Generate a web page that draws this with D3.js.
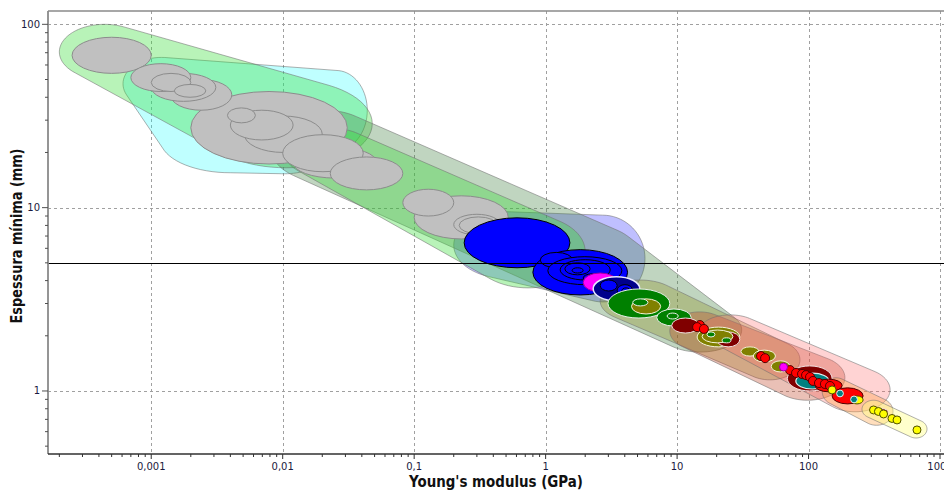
<!DOCTYPE html>
<html>
<head>
<meta charset="utf-8">
<script src="https://cdn.jsdelivr.net/npm/d3@7"></script>
<style>
  body { margin: 0; background: #fff; }
  svg { display: block; }
</style>
</head>
<body>
<svg id="chart" width="944" height="491"></svg>
<script>
// ---- Axis ticks -------------------------------------------------------
const xTickValues = [0.001, 0.01, 0.1, 1, 10, 100, 1000];
const xTickLabels = ["0,001", "0,01", "0,1", "1", "10", "100", "1000"];
const yTickValues = [1, 10, 100];
const yTickLabels = ["1", "10", "100"];
const thresholdThickness = 5; // mm

// ---- Family envelopes: each is the hull of ranges [Emin, Emax, tmin, tmax]
const envCyan = [[6.1e-4, 2.35e-3, 34, 66], [1.17e-3, 0.0136, 15.5, 36], [5.6e-3, 0.019, 15.3, 22], [0.0148, 0.044, 20.6, 56]];
const envLightGreen = [[2.0e-4, 9.8e-4, 50, 100], [2.35e-3, 0.048, 16.5, 50]];
const envGreen = [[0.0104, 0.050, 14.5, 27.2], [0.27, 2.0, 3.65, 9.1]];
const envLavender = [[0.20, 1.29, 4.1, 9.5], [1.29, 5.7, 3.06, 9.1]];
const envSage = [[8.0e-3, 0.055, 13.8, 34], [0.91, 5.2, 3.56, 8.05], [7.2, 31, 1.63, 2.84]];
const envKhaki = [[2.6, 10.5, 2.38, 4.03], [30, 86, 1.15, 1.9]];
const envTerracotta = [[8.8, 25, 1.67, 2.7], [51, 189, 0.89, 1.57]];
const envPink = [[15, 43, 1.78, 2.6], [122, 417, 0.77, 1.34]];
const envOrange = [[127, 207, 0.84, 1.18], [246, 439, 0.65, 0.92]];
const envYellow = [[255, 382, 0.71, 0.89], [542, 796, 0.554, 0.695]];

// ---- Material bubbles: [family, Emin, Emax, tmin, tmax] (GPa, mm)
const foamBubbles = [
  ["gray", 2.0e-3, 0.031, 17.3, 43],
  ["gray", 2.5e-4, 1.0e-3, 54, 85],
  ["gray", 1.4e-3, 4.1e-3, 34, 50],
  ["gray", 1.0e-3, 3.1e-3, 38, 54],
  ["gray", 7.0e-4, 2.0e-3, 43, 61],
  ["gray", 1.0e-3, 2.0e-3, 43, 54],
  ["gray", 1.5e-3, 2.6e-3, 40, 47],
  ["gray", 5.1e-3, 0.020, 20, 31.6],
  ["gray", 4.0e-3, 0.012, 23.4, 34],
  ["gray", 3.8e-3, 6.2e-3, 29, 35],
  ["gray", 0.012, 0.052, 14.5, 21.4],
  ["gray", 0.010, 0.041, 15.7, 25],
  ["gray", 0.023, 0.082, 12.5, 18.9],
  ["gray", 0.10, 0.52, 6.75, 11.6],
  ["gray", 0.082, 0.20, 9.0, 12.6],
  ["gray", 0.20, 0.45, 7.1, 9.2],
  ["gray", 0.22, 0.43, 7.2, 8.9]
];
const polymerBubbles = [
  ["blue", 0.24, 1.53, 4.7, 8.8],
  ["blue", 0.80, 4.2, 3.34, 5.9],
  ["blue", 0.91, 1.6, 4.7, 5.7],
  ["blue", 1.04, 3.8, 3.8, 5.4],
  ["blue", 1.29, 3.1, 4.03, 5.2],
  ["blue", 1.4, 2.18, 4.3, 5.0],
  ["blue", 1.59, 1.93, 4.4, 4.7],
  ["blue", 1.93, 2.6, 3.93, 4.35],
  ["magenta", 1.93, 3.5, 3.47, 4.4],
  ["navy", 2.3, 5.2, 3.1, 4.2],
  ["blue", 2.6, 3.5, 3.51, 4.03],
  ["blue", 3.5, 4.6, 3.3, 3.8],
  ["blue", 3.8, 4.4, 3.34, 3.65],
  ["blue", 4.24, 4.87, 3.3, 3.6]
];
const compositeBubbles = [
  ["green", 2.98, 8.8, 2.5, 3.6],
  ["olive", 4.5, 7.5, 2.63, 3.18],
  ["green", 4.6, 6.0, 2.91, 3.18],
  ["green", 7.0, 12.8, 2.26, 2.8],
  ["green", 8.4, 10.2, 2.47, 2.66],
  ["darkred", 9.1, 14.7, 2.07, 2.5],
  ["olive", 14.2, 30, 1.74, 2.23],
  ["darkred", 20, 30, 1.74, 2.1],
  ["olive", 15.5, 26.6, 1.83, 2.15],
  ["green", 16.9, 19.4, 1.97, 2.1],
  ["green", 22, 25.7, 1.83, 1.95],
  ["olive", 30.6, 42, 1.55, 1.74],
  ["olive", 38, 56, 1.44, 1.67],
  ["olive", 52, 72, 1.27, 1.46]
];
const metalBubbles = [
  ["darkred", 69, 151, 1.0, 1.37],
  ["teal", 80, 143, 1.025, 1.25],
  ["red", 112, 180, 0.99, 1.16],
  ["red", 151, 260, 0.85, 1.04],
  ["yellow", 210, 260, 0.85, 0.94],
  ["darkred", 326, 402, 0.74, 0.80]
];

// ---- Single-value materials: [E, t]
const redPoints = [[14.9, 2.29], [14.2, 2.23], [16.0, 2.18], [43.5, 1.55], [46.7, 1.51],
  [72.3, 1.30], [80.3, 1.254], [89.2, 1.238], [95.7, 1.22], [102.6, 1.192],
  [108, 1.134], [120, 1.105], [133, 1.092], [145.6, 1.065]];
const magentaPoints = [[64.5, 1.35]];
const tealPoints = [[173.5, 0.969], [221.7, 0.899]];
const yellowPoints = [[151, 1.013], [312, 0.788], [340, 0.773], [372, 0.749], [431, 0.708], [471, 0.695], [668, 0.613]];

// ---- Styles ----------------------------------------------------------
const bubbleStyle = {
  gray:    { fill: "#c0c0c0", stroke: "#8c8c8c", sw: 1 },
  blue:    { fill: "#0000ff", stroke: "#000000", sw: 1 },
  navy:    { fill: "#00008c", stroke: "#e8e8ff", sw: 1.5 },
  magenta: { fill: "#ff00ff", stroke: "#a000a0", sw: 1 },
  green:   { fill: "#008000", stroke: "#e8f0e8", sw: 1 },
  olive:   { fill: "#808000", stroke: "#f4f4d8", sw: 1 },
  darkred: { fill: "#800000", stroke: "#f0e0e0", sw: 1 },
  red:     { fill: "#ff0000", stroke: "#500000", sw: 1 },
  teal:    { fill: "#008080", stroke: "#e0f0f0", sw: 1.2 },
  yellow:  { fill: "#ffff00", stroke: "#505000", sw: 1 }
};
const envelopeLayers = [
  { anchors: envCyan,       fill: "#00ffff", op: 0.25 },
  { anchors: envLightGreen, fill: "#33dd33", op: 0.35 },
  { anchors: envLavender,   fill: "#0000ff", op: 0.25 },
  { anchors: envSage,       fill: "#408040", op: 0.33 },
  { anchors: envGreen,      fill: "#33dd33", op: 0.35 },
  { anchors: envKhaki,      fill: "#808000", op: 0.28 },
  { anchors: envTerracotta, fill: "#c04020", op: 0.33 },
  { anchors: envPink,       fill: "#ff6060", op: 0.28 },
  { anchors: envOrange,     fill: "#ffa040", op: 0.35 },
  { anchors: envYellow,     fill: "#ffff80", op: 0.40 }
];

// ---- Layout ----------------------------------------------------------
const plot = { left: 48, right: 944, top: 11, bottom: 454 };
const x = d3.scaleLog().domain([1.64e-4, 1072]).range([plot.left, plot.right]);
const y = d3.scaleLog().domain([0.4531, 118.2]).range([plot.bottom, plot.top]);

const svg = d3.select("#chart");
const fontTick = "'DejaVu Sans', Verdana, sans-serif";

svg.append("defs").append("clipPath").attr("id", "plotClip")
  .append("rect").attr("x", plot.left).attr("y", plot.top)
  .attr("width", plot.right - plot.left).attr("height", plot.bottom - plot.top);

// grid
const grid = svg.append("g").attr("stroke", "#a0a0a0").attr("stroke-width", 1)
  .attr("stroke-dasharray", "3,3").attr("shape-rendering", "crispEdges");
grid.selectAll("line.gx").data(xTickValues).join("line")
  .attr("x1", d => Math.round(x(d)) + 0.5).attr("x2", d => Math.round(x(d)) + 0.5)
  .attr("y1", plot.top).attr("y2", plot.bottom);
grid.selectAll("line.gy").data(yTickValues).join("line")
  .attr("y1", d => Math.round(y(d)) + 0.5).attr("y2", d => Math.round(y(d)) + 0.5)
  .attr("x1", plot.left).attr("x2", plot.right);

const body = svg.append("g").attr("clip-path", "url(#plotClip)");

// envelopes as convex hulls of sampled range ellipses
function rangeEllipse(r) {
  const x0 = x(r[0]), x1 = x(r[1]), y0 = y(r[3]), y1 = y(r[2]);
  return { cx: (x0 + x1) / 2, cy: (y0 + y1) / 2, rx: (x1 - x0) / 2, ry: (y1 - y0) / 2 };
}
function hullPath(anchors) {
  const pts = [];
  anchors.forEach(a => {
    const e = rangeEllipse(a);
    for (let i = 0; i < 72; i++) {
      const th = i / 72 * 2 * Math.PI;
      pts.push([e.cx + e.rx * Math.cos(th), e.cy + e.ry * Math.sin(th)]);
    }
  });
  const hull = d3.polygonHull(pts);
  return d3.line().curve(d3.curveLinearClosed)(hull);
}
body.append("g").selectAll("path").data(envelopeLayers).join("path")
  .attr("d", d => hullPath(d.anchors))
  .attr("fill", d => d.fill).attr("fill-opacity", d => d.op)
  .attr("stroke", "#707070").attr("stroke-opacity", 0.55).attr("stroke-width", 1)
  .attr("stroke-linejoin", "round");

// bubbles
function drawBubbles(rows) {
  body.append("g").selectAll("ellipse").data(rows).join("ellipse")
    .each(function (d) {
      const e = rangeEllipse(d.slice(1));
      const s = bubbleStyle[d[0]];
      d3.select(this).attr("cx", e.cx).attr("cy", e.cy).attr("rx", e.rx).attr("ry", e.ry)
        .attr("fill", s.fill).attr("stroke", s.stroke).attr("stroke-width", s.sw);
    });
}
drawBubbles(foamBubbles);
drawBubbles(polymerBubbles);
drawBubbles(compositeBubbles);
drawBubbles(metalBubbles);

// point materials
function drawPoints(rows, family, r) {
  const s = bubbleStyle[family];
  body.append("g").selectAll("circle").data(rows).join("circle")
    .attr("cx", d => x(d[0])).attr("cy", d => y(d[1])).attr("r", r)
    .attr("fill", s.fill).attr("stroke", s.stroke).attr("stroke-width", 1);
}
drawPoints(redPoints, "red", 4.5);
drawPoints(magentaPoints, "magenta", 4);
drawPoints(yellowPoints, "yellow", 4);
drawPoints(tealPoints, "teal", 3.4);

// threshold line
body.append("line")
  .attr("x1", plot.left).attr("x2", plot.right)
  .attr("y1", Math.round(y(thresholdThickness)) + 0.5).attr("y2", Math.round(y(thresholdThickness)) + 0.5)
  .attr("stroke", "#000").attr("stroke-width", 1.2);

// frame
svg.append("line").attr("x1", plot.left).attr("x2", plot.right)
  .attr("y1", plot.top).attr("y2", plot.top).attr("stroke", "#8a8a8a").attr("stroke-width", 1.6);
svg.append("line").attr("x1", plot.left).attr("x2", plot.left)
  .attr("y1", plot.top).attr("y2", plot.bottom).attr("stroke", "#8a8a8a").attr("stroke-width", 1.8);
svg.append("line").attr("x1", plot.left).attr("x2", plot.right)
  .attr("y1", plot.bottom).attr("y2", plot.bottom).attr("stroke", "#303030").attr("stroke-width", 1.6);

// x ticks (major + minor)
const xMinor = [];
for (let p = -4; p <= 3; p++) for (let k = 2; k <= 9; k++) {
  const v = k * Math.pow(10, p);
  if (v > x.domain()[0] && v < x.domain()[1]) xMinor.push(v);
}
const tk = svg.append("g").attr("stroke", "#303030").attr("stroke-width", 1);
tk.selectAll("line.xm").data(xMinor).join("line")
  .attr("x1", d => x(d)).attr("x2", d => x(d)).attr("y1", plot.bottom).attr("y2", plot.bottom + 3);
tk.selectAll("line.xM").data(xTickValues).join("line")
  .attr("x1", d => x(d)).attr("x2", d => x(d)).attr("y1", plot.bottom).attr("y2", plot.bottom + 5);

const yMinor = [];
for (let p = -1; p <= 2; p++) for (let k = 2; k <= 9; k++) {
  const v = k * Math.pow(10, p);
  if (v > y.domain()[0] && v < y.domain()[1]) yMinor.push(v);
}
const tky = svg.append("g").attr("stroke", "#505050").attr("stroke-width", 1);
tky.selectAll("line.ym").data(yMinor).join("line")
  .attr("y1", d => y(d)).attr("y2", d => y(d)).attr("x1", plot.left - 3).attr("x2", plot.left);
tky.selectAll("line.yM").data(yTickValues).join("line")
  .attr("y1", d => y(d)).attr("y2", d => y(d)).attr("x1", plot.left - 6).attr("x2", plot.left);

// tick labels
svg.append("g").selectAll("text").data(xTickValues).join("text")
  .attr("x", d => x(d)).attr("y", 470).attr("text-anchor", "middle")
  .attr("font-family", fontTick).attr("font-size", 10).attr("fill", "#1a1a40")
  .text((d, i) => xTickLabels[i]);
svg.append("g").selectAll("text").data(yTickValues).join("text")
  .attr("x", 40).attr("y", d => y(d) + 3.5).attr("text-anchor", "end")
  .attr("font-family", fontTick).attr("font-size", 10).attr("fill", "#1a1a40")
  .text((d, i) => yTickLabels[i]);

// axis titles
svg.append("text").attr("x", 496).attr("y", 487).attr("text-anchor", "middle")
  .attr("font-family", fontTick).attr("font-weight", "bold").attr("font-size", 16)
  .attr("textLength", 174).attr("lengthAdjust", "spacingAndGlyphs").attr("fill", "#111")
  .text("Young's modulus (GPa)");
svg.append("text").attr("transform", "translate(22,236) rotate(-90)").attr("text-anchor", "middle")
  .attr("font-family", fontTick).attr("font-weight", "bold").attr("font-size", 16)
  .attr("textLength", 175).attr("lengthAdjust", "spacingAndGlyphs").attr("fill", "#111")
  .text("Espessura mínima (mm)");
</script>
</body>
</html>
